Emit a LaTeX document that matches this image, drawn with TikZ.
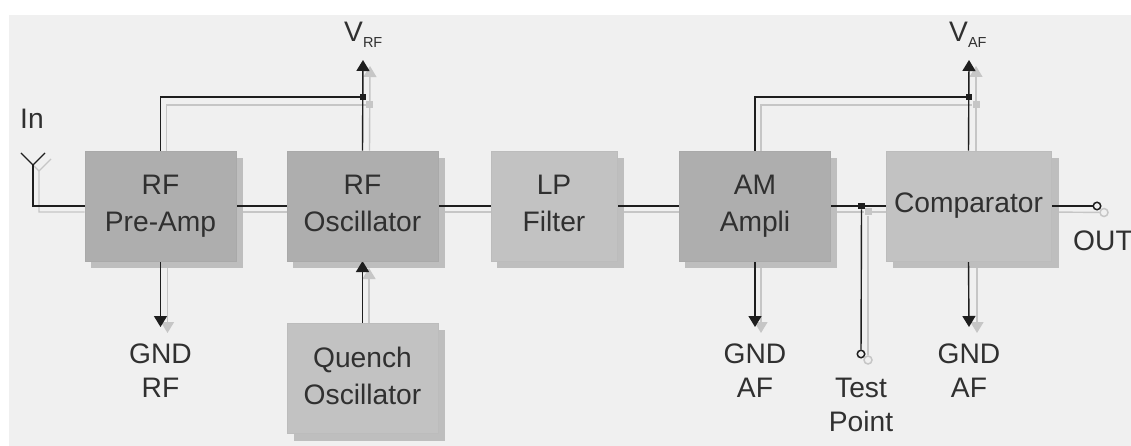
\documentclass[tikz,border=0pt]{standalone}
\usepackage{fontspec}
\setmainfont{Liberation Sans}
\usetikzlibrary{arrows.meta,calc}
\pgfdeclarelayer{bgl}\pgfdeclarelayer{gl}\pgfdeclarelayer{sl}\pgfdeclarelayer{bl}
\pgfsetlayers{bgl,gl,sl,bl,main}
\definecolor{bgc}{HTML}{F0F0F0}
\definecolor{dk}{HTML}{AEAEAE}
\definecolor{lt}{HTML}{C2C2C2}
\definecolor{dkb}{HTML}{A9A9A9}
\definecolor{ltb}{HTML}{BCBCBC}
\definecolor{shd}{HTML}{BEBEBE}
\definecolor{gl}{HTML}{C6C6C6}
\definecolor{ink}{HTML}{1E1E1E}
\definecolor{txt}{HTML}{303030}
\tikzset{
 x=1pt,y=-1pt,
 blockbase/.style={minimum width=151pt,minimum height=110pt,inner sep=0pt,align=center,text=txt,
   font=\fontsize{28.2}{37}\selectfont,line width=0.8pt},
 darkblock/.style={blockbase,fill=dk,draw=dkb},
 lightblock/.style={blockbase,fill=lt,draw=ltb},
 lab/.style={inner sep=0pt,align=center,text=txt,font=\fontsize{28.2}{34}\selectfont},
 shadowbox/.style={fill=shd},
 bline/.style={draw=ink,line width=1.4pt},
 gline/.style={draw=gl,line width=1.4pt},
 barrow/.style={bline,-{Triangle[width=13pt,length=11pt,fill=ink]}},
 garrow/.style={gline,-{Triangle[width=13pt,length=11pt,fill=gl]}},
 bsq/.style={fill=ink,inner sep=0pt,minimum size=6.5pt},
 gsq/.style={fill=gl,inner sep=0pt,minimum size=7pt},
 bcirc/.style={circle,draw=ink,line width=1.5pt,fill=bgc,inner sep=0pt,minimum size=7.5pt},
 gcirc/.style={circle,draw=gl,line width=1.5pt,fill=bgc,inner sep=0pt,minimum size=8pt},
}
\newcommand{\subV}[1]{V\raisebox{-6pt}{\fontsize{14.5}{15}\selectfont #1}}
\begin{document}
\begin{tikzpicture}
\useasboundingbox (0,0) rectangle (1131,446);
\begin{pgfonlayer}{bgl}
\fill[white] (0,0) rectangle (1131,446);
\fill[bgc] (9,15) rectangle (1131,446);
\end{pgfonlayer}
% blocks
\node[darkblock] (pre) at (160.5,206) {RF\\Pre-Amp};
\node[darkblock] (osc) at (362.5,206) {RF\\Oscillator\vphantom{p}};
\node[lightblock,minimum width=126pt] (lp) at (554,206) {LP\\Filter\vphantom{p}};
\node[darkblock] (am) at (755,206) {AM\\Ampli};
\node[lightblock,minimum width=165pt] (cmp) at (968.5,206) {Comparator};
\node[lightblock] (qo) at (362.5,378.5) {Quench\\Oscillator\vphantom{p}};
% labels
\node[lab,anchor=base west] (in) at (20,129) {In};
\node[lab,anchor=base west] (vrf) at (344,42) {\subV{RF}};
\node[lab,anchor=base west] (vaf) at (949,42) {\subV{AF}};
\node[lab,anchor=base west] (out) at (1073,250) {OUT};
\node[lab] (g1) at (160.5,371) {GND\\RF};
\node[lab] (g2) at (755,371) {GND\\AF};
\node[lab] (g3) at (969,371) {GND\\AF};
\node[lab] (tp) at (861,405) {Test\\Point};
% junctions and terminals
\node[bsq] (jrf) at (363,97) {};
\node[gsq] (jrfg) at (369.5,105) {};
\node[bsq] (jaf) at (969,97) {};
\node[gsq] (jafg) at (976,105) {};
\node[bsq] (jt) at (861.5,206) {};
\node[gsq] (jtg) at (868,212) {};
\node[bcirc] (ct) at (861,354) {};
\node[gcirc] (ctg) at (868,360) {};
\node[bcirc] (co) at (1097,206) {};
\node[gcirc] (cog) at (1104,212.5) {};
% free ends
\coordinate (antb) at (33,165);
\coordinate (antg) at (39,171);
\coordinate (antl) at (21,153);
\coordinate (antr) at (45,153);
\coordinate (antgr) at (51,159);
\coordinate (antc) at (33,206);
\coordinate (antgc) at (39,212);
\coordinate (tvrf) at (363,60);
\coordinate (tvrfg) at (370,66);
\coordinate (tvaf) at (969,60);
\coordinate (tvafg) at (976,66);
\coordinate (tg1) at (160.5,327);
\coordinate (tg1g) at (167.5,333);
\coordinate (tg2) at (755,327);
\coordinate (tg2g) at (761,333);
\coordinate (tg3) at (969,327);
\coordinate (tg3g) at (977,333);
\coordinate (toq) at (362.5,261);
\coordinate (toqg) at (369,268);
% shadows
\begin{pgfonlayer}{sl}
\foreach \n/\dx in {pre/6.5,osc/6.5,lp/6.5,am/6,cmp/7.5,qo/7}{
  \fill[shadowbox] ([xshift=\dx pt,yshift=-7pt]\n.north west) rectangle ([xshift=\dx pt,yshift=-7pt]\n.south east);
}
\end{pgfonlayer}
% grey copies
\begin{pgfonlayer}{gl}
\draw[gline] (antgr) -- (antg) -- (antgc) -- ([yshift=-6pt]pre.west);
\draw[gline] (antg) -- +(-6,-6);
\draw[gline] ([yshift=-6pt]pre.east) -- ([yshift=-6pt]osc.west);
\draw[gline] ([yshift=-6pt]osc.east) -- ([yshift=-6pt]lp.west);
\draw[gline] ([yshift=-6pt]lp.east) -- ([yshift=-6pt]am.west);
\draw[gline] ([yshift=-6pt]am.east) -- (jtg) -- ([yshift=-6pt]cmp.west);
\draw[gline] ([yshift=-6pt]cmp.east) -- (cog);
\draw[gline] (jtg) -- (ctg);
\draw[gline] ([xshift=6pt]pre.north) -- ([xshift=6pt]pre.north |- jrfg) -- (jrfg);
\draw[garrow] ([xshift=7pt]osc.north) -- (tvrfg);
\draw[gline] ([xshift=6pt]am.north) -- ([xshift=6pt]am.north |- jafg) -- (jafg);
\draw[garrow] ([xshift=7.5pt]cmp.north) -- (tvafg);
\draw[garrow] (tg1g |- pre.south) -- (tg1g);
\draw[garrow] (tg2g |- am.south) -- (tg2g);
\draw[garrow] (tg3g |- cmp.south) -- (tg3g);
\draw[garrow] (toqg |- qo.north) -- (toqg);
\end{pgfonlayer}
% black connectors
\begin{pgfonlayer}{bl}
\draw[bline] (antl) -- (antb) -- (antr);
\draw[bline] (antb) -- (antc) -- (pre.west);
\draw[bline] (pre.east) -- (osc.west);
\draw[bline] (osc.east) -- (lp.west);
\draw[bline] (lp.east) -- (am.west);
\draw[bline] (am.east) -- (cmp.west);
\draw[bline] (cmp.east) -- (co);
\draw[bline] (jt) -- (ct);
\draw[bline] (pre.north) -- (pre.north |- jrf) -- (jrf);
\draw[barrow] (osc.north) -- (tvrf);
\draw[bline] (am.north) -- (am.north |- jaf) -- (jaf);
\draw[barrow] (cmp.north) -- (tvaf);
\draw[barrow] (pre.south) -- (tg1);
\draw[barrow] (am.south) -- (tg2);
\draw[barrow] (cmp.south) -- (tg3);
\draw[barrow] (qo.north) -- (toq);
\end{pgfonlayer}
\end{tikzpicture}
\end{document}
